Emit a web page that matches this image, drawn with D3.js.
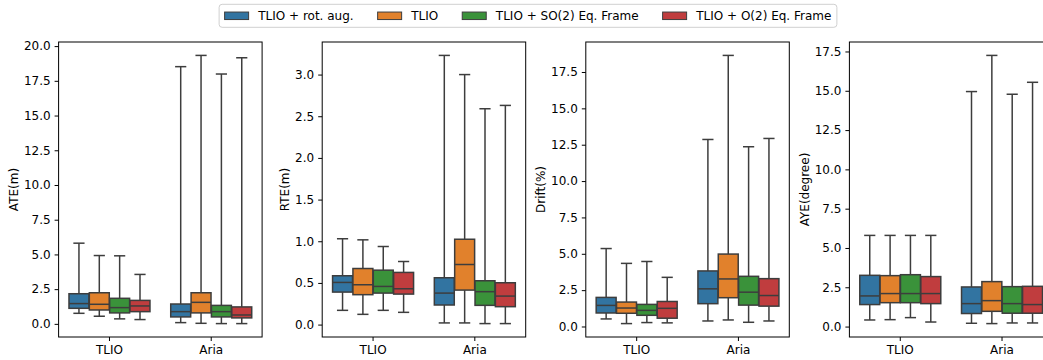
<!DOCTYPE html>
<html>
<head>
<meta charset="utf-8">
<script src="https://cdn.jsdelivr.net/npm/d3@7"></script>
<style>
  body { margin: 0; background: #fff; }
  svg { display: block; font-family: "DejaVu Sans", sans-serif; }
</style>
</head>
<body>
<svg width="1043" height="360"></svg>
<script>
const groups = ["TLIO", "Aria"];
const methods = ["TLIO + rot. aug.", "TLIO", "TLIO + SO(2) Eq. Frame", "TLIO + O(2) Eq. Frame"];
const yLabels = ["ATE(m)", "RTE(m)", "Drift(%)", "AYE(degree)"];

// [group][method] = [whisker low, q1, median, q3, whisker high]
const ateStats = [
  [[0.76, 1.12, 1.46, 2.17, 5.81], [0.55, 1.00, 1.41, 2.24, 4.92], [0.36, 0.79, 1.17, 1.84, 4.90], [0.31, 0.88, 1.29, 1.69, 3.56]],
  [[0.09, 0.50, 0.88, 1.43, 18.52], [0.04, 0.79, 1.55, 2.24, 19.33], [0.02, 0.50, 0.88, 1.33, 17.99], [0.02, 0.43, 0.64, 1.22, 19.16]]
];
const rteStats = [
  [[0.171, 0.39, 0.506, 0.586, 1.03], [0.123, 0.359, 0.478, 0.673, 1.017], [0.171, 0.378, 0.458, 0.653, 0.937], [0.147, 0.366, 0.43, 0.626, 0.757]],
  [[0.02, 0.235, 0.378, 0.562, 3.23], [0.02, 0.414, 0.721, 1.024, 3.0], [0.012, 0.231, 0.395, 0.526, 2.59], [0.012, 0.215, 0.342, 0.502, 2.63]]
];
const driftStats = [
  [[0.52, 0.93, 1.45, 2.0, 5.36], [0.20, 0.91, 1.27, 1.68, 4.34], [0.27, 0.77, 1.11, 1.52, 4.47], [0.25, 0.57, 1.25, 1.72, 3.38]],
  [[0.38, 1.57, 2.59, 3.82, 12.86], [0.45, 1.98, 3.27, 4.98, 18.64], [0.29, 1.47, 2.36, 3.45, 12.36], [0.38, 1.40, 2.13, 3.29, 12.93]]
];
const ayeStats = [
  [[0.42, 1.40, 1.95, 3.26, 5.80], [0.44, 1.52, 2.10, 3.24, 5.80], [0.57, 1.52, 2.10, 3.30, 5.80], [0.29, 1.46, 2.10, 3.18, 5.80]],
  [[0.21, 0.83, 1.46, 2.52, 14.95], [0.19, 0.97, 1.65, 2.86, 17.25], [0.23, 0.85, 1.46, 2.54, 14.78], [0.23, 0.85, 1.40, 2.56, 15.54]]
];

const ateTicks = [0, 2.5, 5, 7.5, 10, 12.5, 15, 17.5, 20];
const rteTicks = [0, 0.5, 1, 1.5, 2, 2.5, 3];
const driftTicks = [0, 2.5, 5, 7.5, 10, 12.5, 15, 17.5];
const ayeTicks = [0, 2.5, 5, 7.5, 10, 12.5, 15, 17.5];

const colors = ["#3274a1", "#e1812c", "#3a923a", "#c03d3e"];
const gray = "#3d3d3d";

const svg = d3.select("svg");
const marginTop = 42, height = 295, width = 203.5;
const firstLeft = 58.6, step = 263.6;

const panels = [
  { stats: ateStats, ticks: ateTicks },
  { stats: rteStats, ticks: rteTicks },
  { stats: driftStats, ticks: driftTicks },
  { stats: ayeStats, ticks: ayeTicks },
];

panels.forEach((p, i) => drawPanel(p, i));
drawLegend();

function drawPanel(p, i) {
  const g = svg.append("g").attr("transform", translate(firstLeft + i * step, marginTop));

  const all = p.stats.flat(2);
  const lo = d3.min(all), hi = d3.max(all), pad = (hi - lo) * 0.05;
  const y = d3.scaleLinear().domain([lo - pad, hi + pad]).range([height, 0]);
  const x = d3.scaleBand().domain(groups).range([0, width]);
  const sub = d3.scaleBand().domain(methods).range([x.bandwidth() * 0.1, x.bandwidth() * 0.9]);

  const yAxis = g.append("g")
    .call(d3.axisLeft(y).tickValues(p.ticks).tickFormat(d3.format(".1f")).tickSize(4).tickPadding(4));
  const xAxis = g.append("g").attr("transform", translate(0, height))
    .call(d3.axisBottom(x).tickSize(4).tickPadding(4));
  [yAxis, xAxis].forEach(a => {
    a.select(".domain").remove();
    a.selectAll("text").attr("font-size", 12).attr("fill", "#000").attr("font-family", "DejaVu Sans");
    a.selectAll("line").attr("stroke", "#000").attr("stroke-width", 1);
  });

  const boxes = [];
  groups.forEach((grp, gi) => methods.forEach((m, mi) => {
    boxes.push({ grp, m, mi, s: p.stats[gi][mi] });
  }));

  const bw = sub.bandwidth() * 0.98;
  const cap = sub.bandwidth() * 0.55;
  const cx = d => x(d.grp) + sub(d.m) + sub.bandwidth() / 2;

  const b = g.selectAll("g.box").data(boxes).enter().append("g").attr("class", "box");
  // whiskers
  b.append("line").attr("x1", cx).attr("x2", cx).attr("y1", d => y(d.s[3])).attr("y2", d => y(d.s[4]));
  b.append("line").attr("x1", cx).attr("x2", cx).attr("y1", d => y(d.s[1])).attr("y2", d => y(d.s[0]));
  // caps
  b.append("line").attr("x1", d => cx(d) - cap / 2).attr("x2", d => cx(d) + cap / 2)
    .attr("y1", d => y(d.s[4])).attr("y2", d => y(d.s[4]));
  b.append("line").attr("x1", d => cx(d) - cap / 2).attr("x2", d => cx(d) + cap / 2)
    .attr("y1", d => y(d.s[0])).attr("y2", d => y(d.s[0]));
  b.selectAll("line").attr("stroke", gray).attr("stroke-width", 1.5);
  // box + median
  b.append("rect")
    .attr("x", d => cx(d) - bw / 2).attr("width", bw)
    .attr("y", d => y(d.s[3])).attr("height", d => y(d.s[1]) - y(d.s[3]))
    .attr("fill", d => colors[d.mi]).attr("stroke", gray).attr("stroke-width", 1.5);
  b.append("line")
    .attr("x1", d => cx(d) - bw / 2).attr("x2", d => cx(d) + bw / 2)
    .attr("y1", d => y(d.s[2])).attr("y2", d => y(d.s[2]))
    .attr("stroke", gray).attr("stroke-width", 1.5);

  g.append("rect").attr("width", width).attr("height", height)
    .attr("fill", "none").attr("stroke", "#000").attr("stroke-width", 1);

  // y label, to the left of the tick labels
  const tickLeft = d3.min(yAxis.selectAll("text").nodes(), n => n.getBBox().x);
  g.append("text")
    .attr("transform", `translate(${tickLeft - 6},${height / 2}) rotate(-90)`)
    .attr("text-anchor", "middle")
    .attr("font-size", 12)
    .text(yLabels[i]);
}

function drawLegend() {
  const fs = 12, handleW = 24, handleH = 7.5, textPad = 9.6, colGap = 24, padX = 5.5;
  const lg = svg.append("g");
  const items = lg.selectAll("g").data(methods).enter().append("g");
  items.append("rect").attr("width", handleW).attr("height", handleH).attr("y", -handleH / 2)
    .attr("fill", (d, i) => colors[i]).attr("stroke", gray).attr("stroke-width", 1);
  items.append("text").attr("x", handleW + textPad).attr("dy", "0.35em")
    .attr("font-size", fs).text(d => d);

  let pos = padX;
  items.each(function () {
    const w = handleW + textPad + this.querySelector("text").getComputedTextLength();
    d3.select(this).attr("transform", translate(pos, 0));
    pos += w + colGap;
  });
  const total = pos - colGap + padX;
  lg.insert("rect", ":first-child")
    .attr("x", 0).attr("y", -11.5).attr("width", total).attr("height", 23)
    .attr("rx", 3).attr("fill", "#fff").attr("fill-opacity", 0.8)
    .attr("stroke", "#d0d0d0").attr("stroke-width", 1);
  lg.attr("transform", translate(528 - total / 2, 15.8));
}

// utils
function translate(x, y) {
  return `translate(${x}, ${y})`;
}
</script>
</body>
</html>
